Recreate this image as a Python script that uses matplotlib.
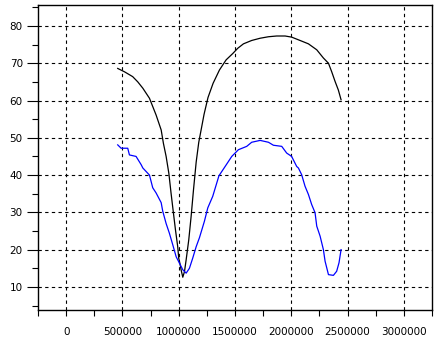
import matplotlib
matplotlib.use('Agg')
import matplotlib.pyplot as plt
from matplotlib.ticker import MultipleLocator, FuncFormatter

# black curve
black_x = [458000, 518000, 591000, 636000, 681000, 740000, 799000, 844000, 864000, 888000,
           912000, 932000, 953000, 971000, 991000, 1000000, 1013000, 1021000, 1036000, 1051000,
           1066000, 1089000, 1110000, 1131000, 1155000, 1178000, 1200000, 1225000, 1260000,
           1305000, 1362000, 1421000, 1480000, 1524000, 1575000, 1648000, 1723000, 1797000,
           1870000, 1945000, 2003000, 2078000, 2152000, 2226000, 2285000, 2330000, 2359000,
           2389000, 2418000, 2442000]
black_y = [68.6, 67.7, 66.4, 65.0, 63.3, 60.6, 56.1, 52.1, 48.5, 45.0,
           40.5, 35.1, 29.8, 25.3, 20.8, 17.7, 15.9, 14.6, 12.6, 14.1,
           17.3, 22.6, 28.9, 36.0, 43.5, 48.8, 52.3, 56.3, 60.8,
           64.6, 68.2, 70.9, 72.6, 74.0, 75.2, 76.1, 76.7, 77.1,
           77.3, 77.3, 77.0, 76.1, 75.2, 73.6, 71.4, 70.0, 67.7,
           65.1, 62.8, 60.2]

# blue curve
blue_x = [458000, 488000, 547000, 562000, 621000, 666000, 681000, 740000, 769000, 799000,
          844000, 858000, 888000, 917000, 947000, 977000, 1006000, 1036000, 1066000, 1095000,
          1124000, 1155000, 1184000, 1228000, 1258000, 1302000, 1357000, 1412000, 1471000,
          1530000, 1604000, 1648000, 1723000, 1797000, 1841000, 1915000, 1959000, 2003000,
          2048000, 2063000, 2092000, 2122000, 2152000, 2181000, 2211000, 2226000, 2256000,
          2285000, 2300000, 2330000, 2374000, 2403000, 2424000, 2442000]
blue_y = [48.1, 47.2, 47.2, 45.4, 45.0, 42.8, 41.9, 40.0, 36.6, 35.2,
          32.6, 30.3, 27.0, 24.4, 21.3, 18.1, 16.4, 14.6, 13.7, 15.0,
          17.7, 20.8, 23.2, 27.6, 31.2, 34.3, 39.8, 42.3, 45.0,
          46.8, 47.7, 48.8, 49.3, 48.8, 48.0, 47.7, 45.9, 45.0,
          42.3, 41.9, 40.1, 37.0, 34.8, 32.1, 29.9, 26.3, 23.6,
          20.0, 16.9, 13.3, 13.1, 14.2, 16.5, 20.0]

x_ticks = [0, 500000, 1000000, 1500000, 2000000, 2500000, 3000000]
y_ticks = [10, 20, 30, 40, 50, 60, 70, 80]

fig = plt.figure(figsize=(4.39, 3.37), dpi=100)
ax = fig.add_axes([0.0866, 0.080, 0.8975, 0.905])

ax.plot(black_x, black_y, color='black', linewidth=0.9)
ax.plot(blue_x, blue_y, color='blue', linewidth=0.9)

ax.set_xlim(-250000, 3250000)
ax.set_ylim(3.8, 85.6)
ax.set_xticks(x_ticks)
ax.xaxis.set_minor_locator(MultipleLocator(250000))
ax.set_yticks(y_ticks)
ax.yaxis.set_minor_locator(MultipleLocator(5))
ax.xaxis.set_major_formatter(FuncFormatter(lambda v, p: '%d' % v))

ax.tick_params(axis='both', which='both', direction='out', colors='black', labelsize=7.5, width=0.8)
ax.tick_params(axis='x', which='major', length=4, pad=8)
ax.tick_params(axis='x', which='minor', length=4)
ax.tick_params(axis='y', which='major', length=8, pad=3)
ax.tick_params(axis='y', which='minor', length=4)

ax.grid(True, which='major', color='black', linestyle=(0, (3, 3)), linewidth=0.8)
for s in ax.spines.values():
    s.set_linewidth(1.0)

plt.savefig('out.png', dpi=100)
